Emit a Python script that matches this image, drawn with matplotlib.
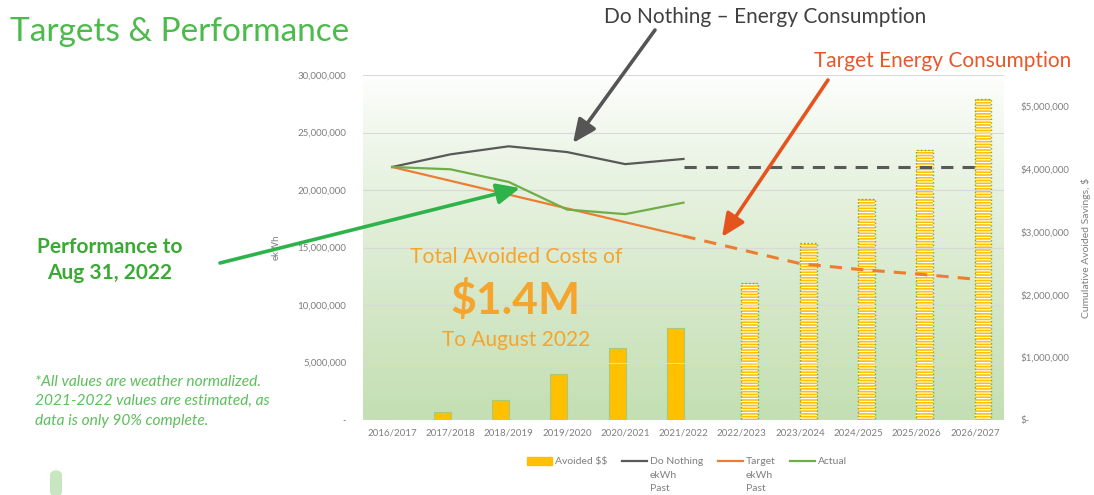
import numpy as np
import matplotlib
matplotlib.use("Agg")
import matplotlib.pyplot as plt
from matplotlib.ticker import FuncFormatter, MultipleLocator
from matplotlib.patches import FancyBboxPatch

plt.rcParams['font.family'] = ['Lato', 'DejaVu Sans']
plt.rcParams['hatch.linewidth'] = 0.8
plt.rcParams['text.parse_math'] = False

years = ['2016/2017', '2017/2018', '2018/2019', '2019/2020', '2020/2021', '2021/2022',
         '2022/2023', '2023/2024', '2024/2025', '2025/2026', '2026/2027']
nan = np.nan

# cumulative avoided savings, $ (right axis)
avoided_past = [0, 120000, 320000, 740000, 1140000, 1460000, nan, nan, nan, nan, nan]
avoided_future = [nan, nan, nan, nan, nan, nan, 2180000, 2820000, 3530000, 4300000, 5110000]

# energy, ekWh (left axis)
do_nothing_past = [22.0e6, 23.1e6, 23.8e6, 23.3e6, 22.25e6, 22.7e6, nan, nan, nan, nan, nan]
do_nothing_future = [nan, nan, nan, nan, nan, 22.0e6, 22.0e6, 22.0e6, 22.0e6, 22.0e6, 22.0e6]
target_past = [22.0e6, 20.8e6, 19.6e6, 18.4e6, 17.2e6, 16.0e6, nan, nan, nan, nan, nan]
target_future = [nan, nan, nan, nan, nan, 16.0e6, 14.8e6, 13.6e6, 13.1e6, 12.7e6, 12.25e6]
actual = [22.0e6, 21.8e6, 20.7e6, 18.3e6, 17.9e6, 18.9e6, nan, nan, nan, nan, nan]

GRAY_TXT = '#7f7f7f'
GOLD = '#FFC000'
DN = '#595959'
TG = '#ED7D31'
AC = '#70AD47'

fig = plt.figure(figsize=(10.94, 4.95), dpi=100)
ax = fig.add_axes([363 / 1094, 1 - 420 / 495, 641 / 1094, 345 / 495])
ax2 = ax.twinx()
ax.set_zorder(ax2.get_zorder() + 1)
ax.patch.set_visible(False)

x = np.arange(len(years))

# background gradient
grad = np.linspace(0, 1, 256).reshape(-1, 1)
top = np.array([1.0, 1.0, 1.0])
bot = np.array([0xc4, 0xdf, 0xb3]) / 255.0
img = top + (bot - top) * grad[..., None] ** 0.8
ax2.imshow(img, extent=[-0.5, 10.5, 0, 5.5e6], aspect='auto', origin='upper', zorder=0)

# bars on the right axis
w = 0.29
ax2.bar(x - 0.14, avoided_past, width=w, color=GOLD, edgecolor='#a9c97a', linewidth=0.8, zorder=2)
ax2.bar(x + 0.14, avoided_future, width=w, color=GOLD, edgecolor='white', hatch='------',
        linewidth=0, zorder=2)
ax2.bar(x + 0.14, avoided_future, width=w, fill=False, edgecolor=AC, linestyle=':',
        linewidth=1.0, zorder=3)
ax2.set_ylim(0, 5.5e6)
ax2.set_xlim(-0.5, 10.5)
ax2.yaxis.set_major_locator(MultipleLocator(1e6))
ax2.yaxis.set_major_formatter(FuncFormatter(lambda v, p: '$-' if v == 0 else '${:,.0f}'.format(v)))
ax2.set_ylabel('Cumulative Avoided Savings, $', color=GRAY_TXT, fontsize=7.5, labelpad=8)

# gridlines on the left axis
ax.set_ylim(0, 30e6)
ax.set_xlim(-0.5, 10.5)
ax.yaxis.set_major_locator(MultipleLocator(5e6))
ax.yaxis.set_major_formatter(FuncFormatter(lambda v, p: '-' if v == 0 else '{:,.0f}'.format(v)))
ax.grid(axis='y', color='#d9d9d9', linewidth=0.8)
ax.set_axisbelow(False)
ax.set_ylabel('ekWh', color=GRAY_TXT, fontsize=7, labelpad=12)

ax.plot(x, do_nothing_past, color=DN, lw=1.6, label='Do Nothing\nekWh\nPast', zorder=4)
ax.plot(x, do_nothing_future, color=DN, lw=2.2, dashes=(4, 3), zorder=4)
ax.plot(x, target_past, color=TG, lw=1.6, label='Target\nekWh\nPast', zorder=4)
ax.plot(x, target_future, color=TG, lw=2.2, dashes=(4, 3), zorder=4)
ax.plot(x, actual, color=AC, lw=1.6, label='Actual', zorder=4)

ax.set_xticks(x)
ax.set_xticklabels(years)
for a in (ax, ax2):
    for s in a.spines.values():
        s.set_visible(False)
    a.tick_params(length=0, labelsize=7, colors=GRAY_TXT)
ax.tick_params(axis='y', pad=12)
ax2.tick_params(axis='y', pad=12)
ax.tick_params(axis='x', pad=6)

# legend
h_bar = plt.Rectangle((0, 0), 1, 1, color=GOLD)
lines = ax.get_lines()
leg = fig.legend([h_bar, lines[0], lines[2], lines[4]],
                 ['Avoided $$', 'Do Nothing\nekWh\nPast', 'Target\nekWh\nPast', 'Actual'],
                 loc='upper center', bbox_to_anchor=(687 / 1094, 1 - 448 / 495), ncol=4,
                 frameon=False, fontsize=7.5, handlelength=2.4, handletextpad=0.3,
                 columnspacing=1.4, labelspacing=0.2)
for t in leg.get_texts():
    t.set_color(GRAY_TXT)
    t.set_multialignment('left')
    t.set_linespacing(1.65)
leg._legend_handle_box.align = 'top'
for col in leg._legend_handle_box.get_children():
    col.align = 'top'
    for row in col.get_children():
        row.align = 'top'

# text and arrows
def fy(y):
    return 1 - y / 495

def fx(xp):
    return xp / 1094

fig.text(fx(10), fy(32), 'Targets & Performance', color='#4cbb4c', fontsize=24, va='center')
fig.text(fx(765), fy(17), 'Do Nothing \u2013 Energy Consumption', color='#404040', fontsize=15,
         va='center', ha='center')
fig.text(fx(943), fy(61), 'Target Energy Consumption', color='#e8562a', fontsize=15,
         va='center', ha='center')
fig.text(fx(110), fy(260), 'Performance to\nAug 31, 2022', color='#3aaa35', fontsize=15,
         fontweight='bold', va='center', ha='center', linespacing=1.4)
fig.text(fx(516), fy(257), 'Total Avoided Costs of', color='#f5a42d', fontsize=15.2,
         va='center', ha='center')
fig.text(fx(516), fy(300), '$1.4M', color='#f5a42d', fontsize=32, fontweight='bold',
         va='center', ha='center')
fig.text(fx(516), fy(340), 'To August 2022', color='#f5a42d', fontsize=15,
         va='center', ha='center')
fig.text(fx(35), fy(401), '*All values are weather normalized.\n2021-2022 values are estimated, as\n'
         'data is only 90% complete.', color='#5cbf5c', fontsize=11.2, style='italic',
         va='center', ha='left', linespacing=1.5)

def arrow(tail, tip, color):
    ax.annotate('', xy=(tip[0], 495 - tip[1]), xycoords='figure pixels',
                xytext=(tail[0], 495 - tail[1]), textcoords='figure pixels',
                arrowprops=dict(arrowstyle='-|>,head_length=1.0,head_width=0.45', color=color,
                                lw=2.6, shrinkA=0, shrinkB=0, mutation_scale=14),
                annotation_clip=False, zorder=10)

arrow((655, 30), (573, 143), '#555555')
arrow((828, 80), (722, 237), '#e5541f')
arrow((220, 263), (520, 188), '#2db34a')

fig.patches.append(FancyBboxPatch((fx(50), fy(497)), fx(12), 0.055, boxstyle='round,pad=0,rounding_size=0.01',
                                  transform=fig.transFigure, facecolor='#c8e6c2', edgecolor='none'))

fig.savefig('out.png', dpi=100)
